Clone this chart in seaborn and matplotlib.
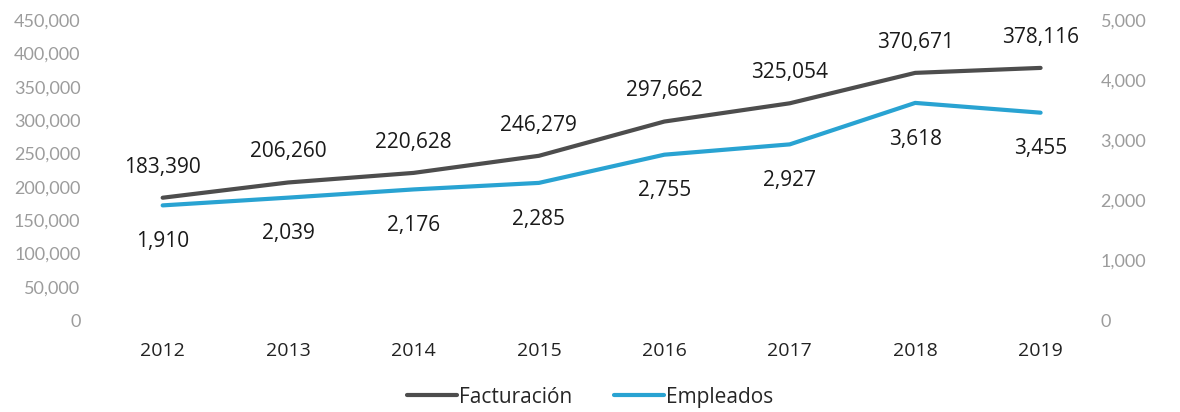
import pandas as pd
import seaborn as sns
import matplotlib.pyplot as plt
from matplotlib.ticker import FuncFormatter, MultipleLocator

years = ["2012", "2013", "2014", "2015", "2016", "2017", "2018", "2019"]
facturacion = [183390, 206260, 220628, 246279, 297662, 325054, 370671, 378116]
empleados = [1910, 2039, 2176, 2285, 2755, 2927, 3618, 3455]

df = pd.DataFrame({"year": years, "Facturación": facturacion, "Empleados": empleados})

sns.set_style("white")
plt.rcParams["font.family"] = ["Open Sans", "DejaVu Sans"]

grey = "#4d4d4d"
blue = "#29a3d2"
tick_col = "#9c9c9c"

fig = plt.figure(figsize=(11.8, 4.12), dpi=100)
ax = fig.add_axes([0.0847, 0.2233, 0.8503, 0.7282])
ax2 = ax.twinx()

sns.lineplot(data=df, x="year", y="Facturación", ax=ax, color=grey, linewidth=3.0,
             label="Facturación", legend=False, sort=False)
sns.lineplot(data=df, x="year", y="Empleados", ax=ax2, color=blue, linewidth=3.0,
             label="Empleados", legend=False, sort=False)

ax.set_xlim(-0.5, len(years) - 0.5)
ax.set_ylim(0, 450000)
ax2.set_ylim(0, 5000)
ax.yaxis.set_major_locator(MultipleLocator(50000))
ax2.yaxis.set_major_locator(MultipleLocator(1000))
fmt = FuncFormatter(lambda v, p: f"{int(v):,}")
ax.yaxis.set_major_formatter(fmt)
ax2.yaxis.set_major_formatter(fmt)

for a in (ax, ax2):
    for s in a.spines.values():
        s.set_visible(False)
    a.set_xlabel("")
    a.set_ylabel("")
    a.tick_params(axis="y", length=0, labelsize=13, labelcolor=tick_col)
    for lbl in a.get_yticklabels():
        lbl.set_fontfamily(["Lato", "DejaVu Sans"])
ax.tick_params(axis="y", pad=14)
ax2.tick_params(axis="y", pad=-2)
ax.tick_params(axis="x", length=0, labelsize=14, labelcolor="#222222", pad=16)

for i, v in enumerate(facturacion):
    ax.annotate(f"{v:,}", (i, v), xytext=(0, 22), textcoords="offset points",
                ha="center", va="center", fontsize=15, color="#1a1a1a")
for i, v in enumerate(empleados):
    ax2.annotate(f"{v:,}", (i, v), xytext=(0, -26), textcoords="offset points",
                 ha="center", va="center", fontsize=15, color="#1a1a1a")

handles = ax.get_lines()[:1] + ax2.get_lines()[:1]
fig.legend(handles, ["Facturación", "Empleados"], loc="lower center",
           bbox_to_anchor=(0.5, -0.035), ncol=2, frameon=False, fontsize=15,
           handlelength=2.4, handletextpad=0.1, columnspacing=2.0)

fig.savefig("out.png", dpi=100)
